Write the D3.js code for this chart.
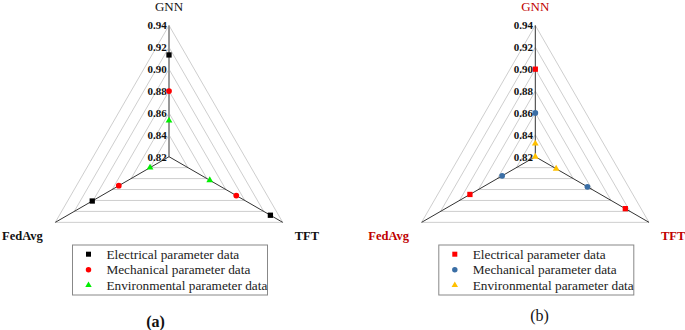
<!DOCTYPE html>
<html>
<head>
<meta charset="utf-8">
<script src="https://cdn.jsdelivr.net/npm/d3@7"></script>
<style>
  body { margin: 0; background: #fff; }
  svg text { font-family: "Liberation Serif", Tinos, "Times New Roman", "DejaVu Serif", serif; }
</style>
</head>
<body>
<div id="chart"></div>
<script>
// axes in order: GNN (top), TFT (lower right), FedAvg (lower left)
const axisNames = ["GNN", "TFT", "FedAvg"];
const tickValues = [0.82, 0.84, 0.86, 0.88, 0.90, 0.92, 0.94];
const seriesNames = ["Electrical parameter data", "Mechanical parameter data", "Environmental parameter data"];

// panel (a)
const electricalA = [0.913, 0.927, 0.901];
const mechanicalA = [0.880, 0.891, 0.873];
const environmentalA = [0.853, 0.863, 0.840];

// panel (b)
const electricalB = [0.900, 0.915, 0.889];
const mechanicalB = [0.860, 0.875, 0.855];
const environmentalB = [0.832, 0.842, 0.820];

const width = 685, height = 330;
const radius = 131.3;
const serif = "Liberation Serif, Tinos, Times New Roman, DejaVu Serif, serif";

const svg = d3.select("#chart")
  .append("svg")
    .attr("width", width)
    .attr("height", height)
    .attr("viewBox", `0 0 ${width} ${height}`)
    .attr("font-family", serif);

const rScale = d3.scaleLinear()
  .domain([0.82, 0.94])
  .range([0, radius]);

// screen angles (y down)
const angles = [-90, 30, 150].map(a => a * Math.PI / 180);

const symbols = [d3.symbolSquare, d3.symbolCircle, d3.symbolTriangle];
const symbolSizes = [28, 26, 20];

const drawPanel = (cfg) => {
  const g = svg.append("g");
  const cx = cfg.cx, cy = 156.7;
  const pt = (i, v) => [cx + rScale(v) * Math.cos(angles[i]), cy + rScale(v) * Math.sin(angles[i])];

  /* grid triangles */
  g.selectAll(".grid")
    .data(tickValues.slice(1))
    .join("polygon")
      .attr("class", "grid")
      .attr("points", v => [0, 1, 2].map(i => pt(i, v).join(",")).join(" "))
      .attr("fill", "none")
      .attr("stroke", "#c8c8c8")
      .attr("stroke-width", 0.9);

  /* axis lines */
  g.selectAll(".axis")
    .data([0, 1, 2])
    .join("line")
      .attr("class", "axis")
      .attr("x1", cx)
      .attr("y1", cy)
      .attr("x2", i => pt(i, 0.94)[0])
      .attr("y2", i => pt(i, 0.94)[1])
      .attr("stroke", i => i === 0 ? cfg.gnnAxisColor : "#333")
      .attr("stroke-width", i => i === 0 ? cfg.gnnAxisWidth : 1);

  /* tick labels on GNN axis */
  g.selectAll(".tick")
    .data(tickValues)
    .join("text")
      .attr("class", "tick")
      .attr("x", cx - 2.3)
      .attr("y", v => pt(0, v)[1] + 3.8)
      .attr("text-anchor", "end")
      .attr("font-size", "11px")
      .attr("font-weight", "bold")
      .attr("fill", "#111")
      .text(v => d3.format(".2f")(v));

  /* axis titles */
  g.append("text")
    .attr("x", cx)
    .attr("y", 11)
    .attr("text-anchor", "middle")
    .attr("font-size", "13px")
    .attr("fill", cfg.titleColor)
    .text(axisNames[0]);
  g.append("text")
    .attr("x", pt(2, 0.94)[0] - 12.5)
    .attr("y", 239.5)
    .attr("text-anchor", "end")
    .attr("font-size", "12.5px")
    .attr("font-weight", "bold")
    .attr("fill", cfg.titleColor)
    .text(axisNames[2]);
  g.append("text")
    .attr("x", pt(1, 0.94)[0] + 12)
    .attr("y", 239.5)
    .attr("text-anchor", "start")
    .attr("font-size", "12.5px")
    .attr("font-weight", "bold")
    .attr("fill", cfg.titleColor)
    .text(axisNames[1]);

  /* data points */
  cfg.series.forEach((vals, s) => {
    g.selectAll(`.pt${s}`)
      .data(vals)
      .join("path")
        .attr("class", `pt${s}`)
        .attr("transform", (v, i) => `translate(${pt(i, v)[0]}, ${pt(i, v)[1]})`)
        .attr("d", d3.symbol(symbols[s], symbolSizes[s]))
        .attr("fill", cfg.colors[s]);
  });

  /* legend */
  const lx = cx - 97, ly = 244.5;
  const legend = g.append("g").attr("transform", `translate(${lx}, ${ly})`);
  legend.append("rect")
    .attr("x", 0.5)
    .attr("y", 0.5)
    .attr("width", 195)
    .attr("height", 50)
    .attr("fill", "#fff")
    .attr("stroke", "#888")
    .attr("stroke-width", 1);
  const rows = legend.selectAll(".row")
    .data(seriesNames)
    .join("g")
      .attr("class", "row")
      .attr("transform", (d, i) => `translate(0, ${9.7 + i * 15.5})`);
  rows.append("path")
    .attr("transform", "translate(16.5, 0)")
    .attr("d", (d, i) => d3.symbol(symbols[i], symbolSizes[i] * 0.9)())
    .attr("fill", (d, i) => cfg.colors[i]);
  rows.append("text")
    .attr("x", 34.4)
    .attr("y", 4.4)
    .attr("font-size", "13.3px")
    .attr("fill", "#222")
    .text(d => d);

  /* panel label */
  g.append("text")
    .attr("x", cfg.labelX)
    .attr("y", cfg.labelY)
    .attr("text-anchor", "middle")
    .attr("font-size", "16px")
    .attr("font-weight", cfg.labelWeight)
    .attr("fill", "#111")
    .text(cfg.label);
};

drawPanel({
  cx: 169,
  series: [electricalA, mechanicalA, environmentalA],
  colors: ["#000000", "#ff0000", "#00ee00"],
  titleColor: "#111",
  gnnAxisColor: "#999",
  gnnAxisWidth: 2,
  label: "(a)",
  labelX: 155.5,
  labelY: 327,
  labelWeight: "bold"
});

drawPanel({
  cx: 535.3,
  series: [electricalB, mechanicalB, environmentalB],
  colors: ["#ff0000", "#3a6ea5", "#ffc000"],
  titleColor: "#c00000",
  gnnAxisColor: "#333",
  gnnAxisWidth: 1,
  label: "(b)",
  labelX: 539.5,
  labelY: 320.5,
  labelWeight: "normal"
});
</script>
</body>
</html>
